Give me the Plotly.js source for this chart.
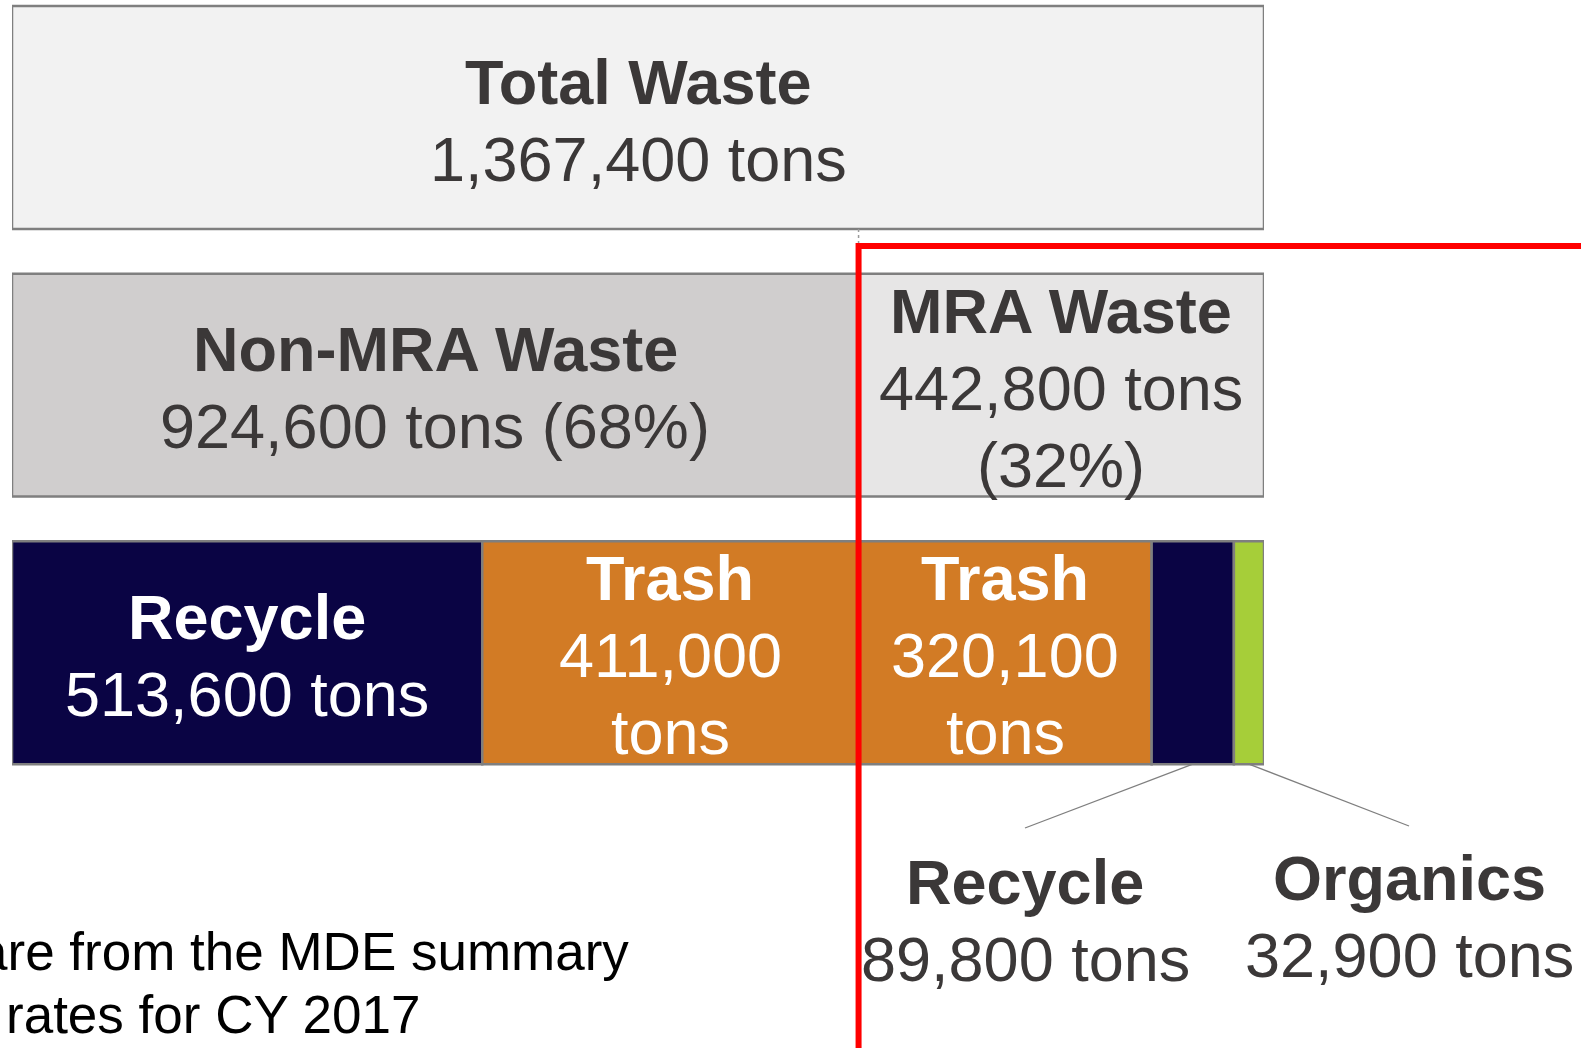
<!DOCTYPE html>
<html><head><meta charset="utf-8">
<script src="https://cdn.plot.ly/plotly-3.0.1.min.js"></script>
<style>html,body{margin:0;padding:0;background:#fff;overflow:hidden}#chart{width:1581px;height:1048px}</style>
</head><body><div id="chart"></div>
<script>
// ---------------- data ----------------
const totalName = 'Total Waste';
const totalTons = 1367400;
const splitNames = ['Non-MRA Waste', 'MRA Waste'];
const splitTons = [924600, 442800];
const splitPct = [68, 32];
const streamNames = ['Recycle', 'Trash', 'Trash', 'Recycle', 'Organics'];
const streamTons = [513600, 411000, 320100, 89800, 32900];
const noteLines = ['are from the MDE summary', 'rates for CY 2017'];

// ---------------- style / layout ----------------
const W = 1581, H = 1048, L = 12, R = 317;
const Y0PX = 117.5, UNIT = 267.6;
const yTop = -Y0PX / UNIT, yBot = yTop + H / UNIT;
const BARW = 0.833;
const ink = '#3b3838';
const FS = 63, LINEH = 77, TEXTDY = 2.5;
const FONT = 'Liberation Sans, Arial, sans-serif';
const splitFill = ['#d0cece', '#e7e6e6'];
const streamFill = ['#0a0444', '#d27b25', '#d27b25', '#0a0444', '#a6ce39'];
const edge = '#7f7f7f';

const fmt = v => v.toLocaleString('en-US');
const px2paperX = px => (px - L) / (W - L - R);
const px2paperY = px => 1 - px / H;
const x2paper = v => v / totalTons;
const y2paper = y => (yBot - y) / (yBot - yTop);

const traces = [], annotations = [], shapes = [];

function seg(row, base, val, fill, name) {
  traces.push({type: 'bar', orientation: 'h', name: name, y: [row], x: [val], base: [base],
    width: [BARW], marker: {color: fill, line: {color: edge, width: 2.5}}, hoverinfo: 'skip'});
}
function label(x, y, lines, color, xref, yref) {
  const n = lines.length;
  lines.forEach((ln, i) => {
    annotations.push({x: x, y: y, xref: xref, yref: yref,
      text: ln.b ? '<b>' + ln.t + '</b>' : ln.t, showarrow: false,
      xanchor: 'center', yanchor: 'middle',
      yshift: ((n - 1) / 2 - i) * LINEH - TEXTDY,
      font: {family: FONT, size: FS, color: color}});
  });
}

// Row 0: total
seg(0, 0, totalTons, '#f2f2f2', totalName);
label(totalTons / 2, 0, [{t: totalName, b: true}, {t: fmt(totalTons) + ' tons'}], ink, 'x', 'y');

// Row 1: split
let acc = 0;
splitTons.forEach((v, i) => {
  seg(1, acc, v, splitFill[i], splitNames[i]);
  const frac = v / totalTons;
  const lines = frac > 0.5
    ? [{t: splitNames[i], b: true}, {t: fmt(v) + ' tons (' + splitPct[i] + '%)'}]
    : [{t: splitNames[i], b: true}, {t: fmt(v) + ' tons'}, {t: '(' + splitPct[i] + '%)'}];
  label(acc + v / 2, 1, lines, ink, 'x', 'y');
  acc += v;
});
const boundary = splitTons[0];

// Row 2: streams
const calloutPx = [[1025, 828, 918], [1409, 826, 913.5]]; // line end x, line end y, label centre y
let k = 0;
acc = 0;
streamTons.forEach((v, i) => {
  seg(2, acc, v, streamFill[i], streamNames[i]);
  const frac = v / totalTons;
  const cx = acc + v / 2;
  if (frac > 0.15) {
    const lines = frac > 0.35
      ? [{t: streamNames[i], b: true}, {t: fmt(v) + ' tons'}]
      : [{t: streamNames[i], b: true}, {t: fmt(v)}, {t: 'tons'}];
    label(cx, 2, lines, '#ffffff', 'x', 'y');
  } else {
    const c = calloutPx[k++];
    shapes.push({type: 'line', xref: 'paper', yref: 'paper',
      x0: x2paper(cx), y0: y2paper(2 + BARW / 2), x1: px2paperX(c[0]), y1: px2paperY(c[1]),
      line: {color: edge, width: 1.3}});
    label(px2paperX(c[0]), px2paperY(c[2]), [{t: streamNames[i], b: true}, {t: fmt(v) + ' tons'}], ink, 'paper', 'paper');
  }
  acc += v;
});

// connector + red MRA boundary
const bx = x2paper(boundary);
const redY = px2paperY(246);
shapes.push({type: 'line', xref: 'paper', yref: 'paper', x0: bx, x1: bx,
  y0: y2paper(BARW / 2), y1: redY, line: {color: '#9a9a9a', width: 1.5, dash: 'dot'}});
shapes.push({type: 'path', xref: 'paper', yref: 'paper',
  path: 'M ' + px2paperX(W + 20) + ',' + redY + ' L ' + bx + ',' + redY + ' L ' + bx + ',-0.02',
  line: {color: '#ff0000', width: 6}});

// note text (partly cut at the left edge)
const noteX = [-24, 4], noteY = [951, 1014];
noteLines.forEach((t, i) => {
  annotations.push({x: px2paperX(noteX[i]), y: px2paperY(noteY[i]), xref: 'paper', yref: 'paper',
    text: t, showarrow: false, xanchor: 'left', yanchor: 'middle',
    font: {family: FONT, size: 53, color: '#000000'}});
});

const layout = {
  width: W, height: H,
  margin: {l: L, r: R, t: 0, b: 0, pad: 0},
  paper_bgcolor: '#ffffff', plot_bgcolor: '#ffffff',
  barmode: 'overlay', showlegend: false,
  xaxis: {range: [0, totalTons], visible: false, fixedrange: true},
  yaxis: {range: [yBot, yTop], visible: false, fixedrange: true},
  annotations: annotations, shapes: shapes
};
Plotly.newPlot('chart', traces, layout, {displayModeBar: false, staticPlot: true});
</script></body></html>
